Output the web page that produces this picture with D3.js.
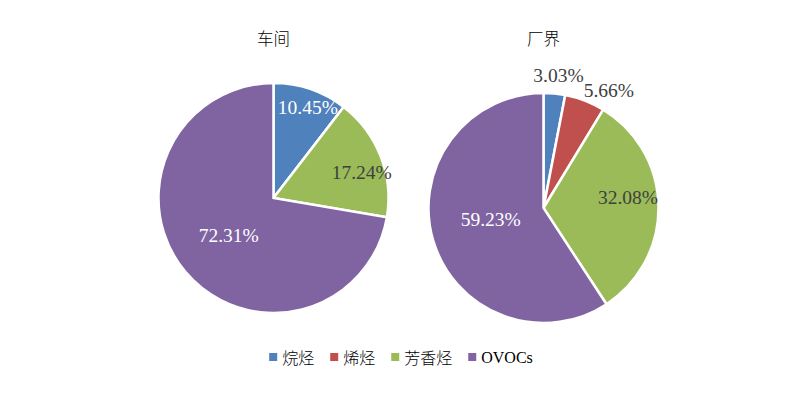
<!DOCTYPE html>
<html><head><meta charset="utf-8">
<script src="https://cdn.jsdelivr.net/npm/d3@7"></script>
<style>body{margin:0;background:#fff}svg{display:block}</style>
</head><body>
<svg id="c" width="804" height="397"></svg>
<script>
const categories = ["烷烃", "烯烃", "芳香烃", "OVOCs"];
const pieTitles = ["车间", "厂界"];
const workshopValues = [10.45, 0, 17.24, 72.31];
const boundaryValues = [3.03, 5.66, 32.08, 59.23];
const colors = ["#4F81BD", "#C0504D", "#9BBB59", "#8064A2"];

// label layout: radius (fraction of R) and angular nudge (deg) per slice
const labelLayout = [
  [[0.84, 2], null, [0.80, 5], [0.51, 0]],
  [[1.16, 1], [1.17, 8], [0.74, -6], [0.47, 4]]
];
const labelInside = [[true, false, false, true], [false, false, false, true]];

const svg = d3.select("#c");
const R = 115;
const centers = [[273.5, 198], [543.5, 208]];
const titleY = 38;
const serif = "'Liberation Serif','Times New Roman',serif";
const cjk = "'Noto Sans CJK SC',sans-serif";

const pie = d3.pie().sort(null).value(d => d);
const arc = d3.arc().innerRadius(0).outerRadius(R);

[workshopValues, boundaryValues].forEach((vals, pi) => {
  const [cx, cy] = centers[pi];
  const g = svg.append("g").attr("transform", `translate(${cx},${cy})`);
  const arcs = pie(vals);
  g.selectAll("path").data(arcs).join("path")
    .attr("d", arc)
    .attr("fill", (d, i) => colors[i])
    .attr("stroke", "#fff").attr("stroke-width", 2.5).attr("stroke-linejoin", "miter");
  arcs.forEach((a, i) => {
    const lay = labelLayout[pi][i];
    if (!lay || vals[i] === 0) return;
    const ang = (a.startAngle + a.endAngle) / 2 + lay[1] * Math.PI / 180;
    const r = lay[0] * R;
    g.append("text")
      .attr("x", r * Math.sin(ang)).attr("y", -r * Math.cos(ang))
      .attr("text-anchor", "middle").attr("dominant-baseline", "central")
      .attr("font-family", serif).attr("font-size", 19.5)
      .attr("fill", labelInside[pi][i] ? "#fff" : "#404040")
      .text(d3.format(".2f")(vals[i]) + "%");
  });
  svg.append("text").attr("x", cx).attr("y", titleY)
    .attr("text-anchor", "middle").attr("dominant-baseline", "central")
    .attr("font-family", cjk).attr("font-weight", 300).attr("font-size", 16.5).attr("fill", "#000")
    .text(pieTitles[pi]);
});

// legend
const lg = svg.append("g");
let x = 0;
categories.forEach((c, i) => {
  const it = lg.append("g");
  it.append("rect").attr("x", x).attr("y", -4).attr("width", 8).attr("height", 8).attr("fill", colors[i]);
  const t = it.append("text").attr("x", x + 13).attr("y", 0)
    .attr("dominant-baseline", "central")
    .attr("font-family", c === "OVOCs" ? serif : cjk)
    .attr("font-weight", c === "OVOCs" ? 400 : 300)
    .attr("font-size", 16).attr("fill", "#000")
    .text(c);
  x += 13 + t.node().getComputedTextLength() + 16;
});
const totalW = x - 16;
lg.attr("transform", `translate(${(804 - totalW) / 2 - 1},357)`);
</script>
</body></html>
